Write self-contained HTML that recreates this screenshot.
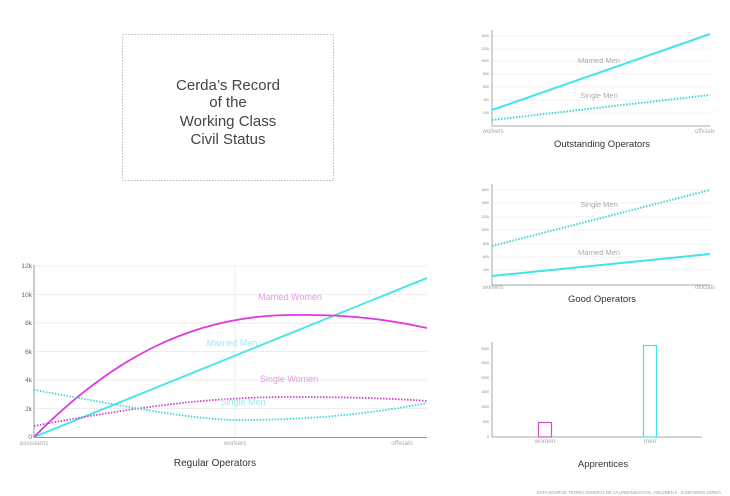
<!DOCTYPE html>
<html><head><meta charset="utf-8"><style>
html,body{margin:0;padding:0;background:#fff;}
svg{display:block;font-family:"Liberation Sans",sans-serif;}
</style></head><body>
<svg width="730" height="496" viewBox="0 0 730 496">
<rect x="0" y="0" width="730" height="496" fill="#fff"/>
<!-- title box -->
<rect x="122.5" y="34.5" width="211" height="146" fill="none" stroke="#bbb" stroke-dasharray="1.5,1.5"/>
<g fill="#444" font-size="15" text-anchor="middle">
<text x="228" y="90">Cerda’s Record</text>
<text x="228" y="107">of the</text>
<text x="228" y="126">Working Class</text>
<text x="228" y="144">Civil Status</text>
</g>

<!-- Regular operators -->
<g stroke="#eee" stroke-width="1">
<line x1="34" y1="266" x2="427" y2="266"/><line x1="34" y1="294.5" x2="427" y2="294.5"/>
<line x1="34" y1="323" x2="427" y2="323"/><line x1="34" y1="351.5" x2="427" y2="351.5"/>
<line x1="34" y1="380" x2="427" y2="380"/><line x1="34" y1="408.5" x2="427" y2="408.5"/>
<line x1="235" y1="266" x2="235" y2="437"/>
</g>
<line x1="34" y1="265" x2="34" y2="438" stroke="#999"/>
<line x1="34" y1="437.5" x2="427" y2="437.5" stroke="#999"/>
<g fill="#666" font-size="6.5" text-anchor="end">
<text x="32" y="268">12k</text><text x="32" y="297">10k</text><text x="32" y="325">8k</text>
<text x="32" y="354">6k</text><text x="32" y="382">4k</text><text x="32" y="411">2k</text><text x="32" y="439">0</text>
</g>
<g fill="#aaa" font-size="6.5" text-anchor="middle">
<text x="34" y="445">assistants</text><text x="235" y="445">workers</text><text x="402" y="445">officials</text>
</g>
<text x="215" y="466" font-size="10" fill="#333" text-anchor="middle">Regular Operators</text>
<line x1="34" y1="437" x2="427" y2="278" stroke="#3ee6e6" stroke-width="1.8"/>
<path d="M34,437 C110,360 190,316 290,315 C350,314 390,320 427,328" fill="none" stroke="#e03ae0" stroke-width="1.8"/>
<path d="M34,426 C120,410 200,397 290,397 C360,397 400,399 427,401" fill="none" stroke="#d040d0" stroke-width="1.8" stroke-dasharray="1.5,1.5"/>
<path d="M34,390 C120,405 190,420 240,420 C320,420 380,412 427,403" fill="none" stroke="#3ed6d6" stroke-width="1.8" stroke-dasharray="1.5,1.5"/>
<g font-size="9" text-anchor="middle">
<text x="290" y="300" fill="#e79ae7">Married Women</text>
<text x="232" y="346" fill="#9ee8ee">Married Men</text>
<text x="289" y="382" fill="#e79ae7">Single Women</text>
<text x="243" y="405" fill="#9ee8ee">Single Men</text>
</g>

<!-- Outstanding -->
<g stroke="#f0f0f0"><line x1="492" y1="36" x2="710" y2="36"/><line x1="492" y1="49" x2="710" y2="49"/><line x1="492" y1="61" x2="710" y2="61"/><line x1="492" y1="74" x2="710" y2="74"/><line x1="492" y1="87" x2="710" y2="87"/><line x1="492" y1="100" x2="710" y2="100"/><line x1="492" y1="113" x2="710" y2="113"/></g>
<line x1="492" y1="30" x2="492" y2="126" stroke="#aaa"/>
<line x1="492" y1="126" x2="710" y2="126" stroke="#aaa"/>
<g fill="#888" font-size="3.5" text-anchor="end"><text x="489" y="37">1400</text><text x="489" y="50">1200</text><text x="489" y="62">1000</text><text x="489" y="75">800</text><text x="489" y="88">600</text><text x="489" y="101">400</text><text x="489" y="114">200</text></g>
<line x1="492" y1="110" x2="710" y2="34" stroke="#3ee6e6" stroke-width="2"/>
<line x1="492" y1="120" x2="710" y2="95" stroke="#3ed6d6" stroke-width="2" stroke-dasharray="1.5,1.5"/>
<g fill="#aaa" font-size="6" text-anchor="middle"><text x="493" y="133">workers</text><text x="705" y="133">officials</text></g>
<g fill="#aaa" font-size="7.5" text-anchor="middle"><text x="599" y="63">Married Men</text><text x="599" y="98">Single Men</text></g>
<text x="602" y="147" font-size="9.5" fill="#333" text-anchor="middle">Outstanding Operators</text>

<!-- Good -->
<g stroke="#f0f0f0"><line x1="492" y1="190" x2="710" y2="190"/><line x1="492" y1="203" x2="710" y2="203"/><line x1="492" y1="217" x2="710" y2="217"/><line x1="492" y1="230" x2="710" y2="230"/><line x1="492" y1="244" x2="710" y2="244"/><line x1="492" y1="257" x2="710" y2="257"/><line x1="492" y1="270" x2="710" y2="270"/></g>
<line x1="492" y1="184" x2="492" y2="285" stroke="#aaa"/>
<line x1="492" y1="285" x2="710" y2="285" stroke="#aaa"/>
<g fill="#888" font-size="3.5" text-anchor="end"><text x="489" y="191">1600</text><text x="489" y="204">1400</text><text x="489" y="218">1200</text><text x="489" y="231">1000</text><text x="489" y="245">800</text><text x="489" y="258">600</text><text x="489" y="271">400</text></g>
<line x1="492" y1="246" x2="710" y2="190" stroke="#3ed6d6" stroke-width="2" stroke-dasharray="1.5,1.5"/>
<line x1="492" y1="276" x2="710" y2="254" stroke="#3ee6e6" stroke-width="2"/>
<g fill="#aaa" font-size="6" text-anchor="middle"><text x="493" y="289">workers</text><text x="705" y="289">officials</text></g>
<g fill="#aaa" font-size="7.5" text-anchor="middle"><text x="599" y="207">Single Men</text><text x="599" y="255">Married Men</text></g>
<text x="602" y="302" font-size="9.5" fill="#333" text-anchor="middle">Good Operators</text>

<!-- Apprentices -->
<line x1="492" y1="342" x2="492" y2="437" stroke="#aaa"/>
<line x1="492" y1="437" x2="702" y2="437" stroke="#aaa"/>
<g fill="#888" font-size="3.5" text-anchor="end"><text x="489" y="350">3000</text><text x="489" y="364">2500</text><text x="489" y="379">2000</text><text x="489" y="393">1500</text><text x="489" y="408">1000</text><text x="489" y="423">500</text><text x="489" y="438">0</text></g>
<rect x="538.5" y="422.5" width="13" height="14.5" fill="none" stroke="#d050d0" stroke-width="1.2"/>
<rect x="643.5" y="345.5" width="13" height="91.5" fill="none" stroke="#3ee6e6" stroke-width="1.2"/>
<g fill="#aaa" font-size="6.5" text-anchor="middle"><text x="545" y="443">women</text><text x="650" y="443">men</text></g>
<text x="603" y="467" font-size="9.5" fill="#333" text-anchor="middle">Apprentices</text>
<text x="721" y="494" font-size="4.2" fill="#999" text-anchor="end">DATA SOURCE: TEORÍA GENERAL DE LA URBANIZACIÓN, VOLUMEN II - ILDEFONSO CERDÀ</text>
</svg>
</body></html>
